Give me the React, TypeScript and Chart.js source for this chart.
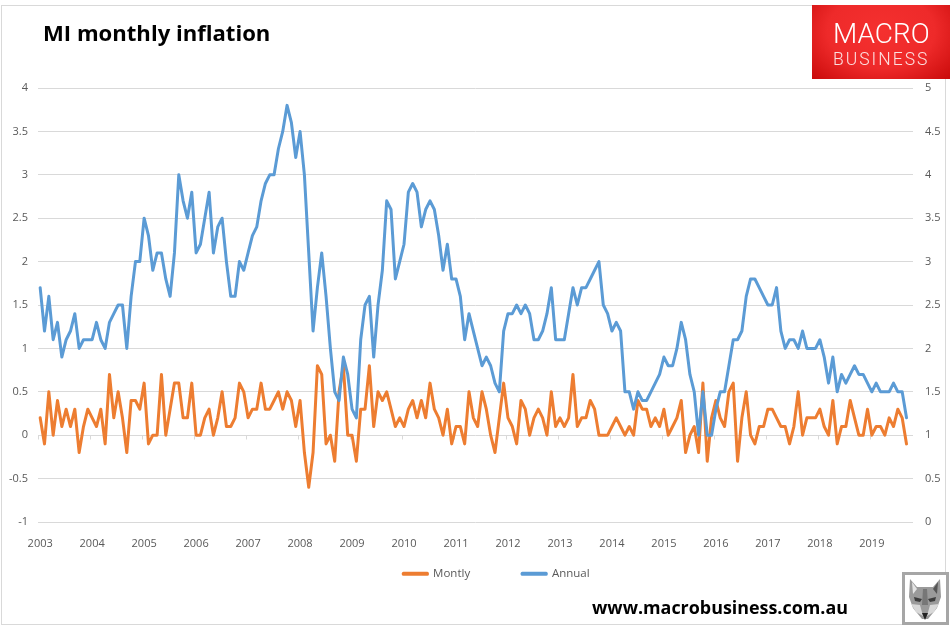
import React, { useEffect, useRef } from "react";
import { Chart, registerables } from "chart.js";

Chart.register(...registerables);

const yearLabels = ["2003","2004","2005","2006","2007","2008","2009","2010","2011","2012","2013","2014","2015","2016","2017","2018","2019"];

const monthly = [
  0.2,-0.1,0.5,0,0.4,0.1,0.3,0.1,0.3,-0.2,0.1,0.3,
  0.2,0.1,0.3,-0.1,0.7,0.2,0.5,0.2,-0.2,0.4,0.4,0.3,
  0.6,-0.1,0,0,0.7,0,0.3,0.6,0.6,0.2,0.2,0.6,
  0,0,0.2,0.3,0,0.2,0.5,0.1,0.1,0.2,0.6,0.5,
  0.2,0.3,0.3,0.6,0.3,0.3,0.4,0.5,0.3,0.5,0.4,0.1,
  0.4,-0.2,-0.6,-0.2,0.8,0.7,-0.1,0,-0.3,0.5,0.8,0,
  0,-0.3,0.3,0.3,0.8,0.1,0.5,0.4,0.5,0.3,0.1,0.2,
  0.1,0.3,0.4,0.2,0.4,0.2,0.6,0.3,0.2,0,0.3,-0.1,
  0.1,0.1,-0.1,0.5,0.2,0.1,0.5,0.3,0,-0.2,0.2,0.6,
  0.2,0.1,-0.1,0.4,0.3,0,0.2,0.3,0.2,0,0.5,0.1,
  0.2,0.1,0.2,0.7,0.1,0.2,0.2,0.4,0.3,0,0,0,
  0.1,0.2,0.1,0,0.1,0,0.4,0.3,0.3,0.1,0.2,0.1,
  0.3,0,0.1,0.2,0.4,-0.2,0,0.1,-0.2,0.6,-0.3,0.2,
  0.4,0.2,0.1,0.5,0.6,-0.3,0.2,0.5,0,-0.1,0.1,0.1,
  0.3,0.3,0.2,0.1,0.1,-0.1,0.1,0.5,0,0.2,0.2,0.2,
  0.3,0.1,0,0.4,-0.1,0.1,0.1,0.4,0.2,0,0,0.3,
  0,0.1,0.1,0,0.2,0.1,0.3,0.2,-0.1,
];

const annual = [
  2.7,2.2,2.6,2.1,2.3,1.9,2.1,2.2,2.4,2.0,2.1,2.1,
  2.1,2.3,2.1,2.0,2.3,2.4,2.5,2.5,2.0,2.6,3.0,3.0,
  3.5,3.3,2.9,3.1,3.1,2.8,2.6,3.1,4.0,3.7,3.5,3.8,
  3.1,3.2,3.5,3.8,3.1,3.4,3.5,3.0,2.6,2.6,3.0,2.9,
  3.1,3.3,3.4,3.7,3.9,4.0,4.0,4.3,4.5,4.8,4.6,4.2,
  4.5,4.0,3.1,2.2,2.7,3.1,2.6,2.0,1.5,1.4,1.9,1.7,
  1.3,1.2,2.1,2.5,2.6,1.9,2.5,2.9,3.7,3.6,2.8,3.0,
  3.2,3.8,3.9,3.8,3.4,3.6,3.7,3.6,3.3,2.9,3.2,2.8,
  2.8,2.6,2.1,2.4,2.2,2.0,1.8,1.9,1.8,1.6,1.5,2.2,
  2.4,2.4,2.5,2.4,2.5,2.4,2.1,2.1,2.2,2.4,2.7,2.1,
  2.1,2.1,2.4,2.7,2.5,2.7,2.7,2.8,2.9,3.0,2.5,2.4,
  2.2,2.3,2.2,1.5,1.5,1.3,1.5,1.4,1.4,1.5,1.6,1.7,
  1.9,1.8,1.8,2.0,2.3,2.1,1.7,1.5,1.0,1.5,1.0,1.0,
  1.3,1.5,1.5,1.8,2.1,2.1,2.2,2.6,2.8,2.8,2.7,2.6,
  2.5,2.5,2.7,2.2,2.0,2.1,2.1,2.0,2.2,2.0,2.0,2.0,
  2.1,1.9,1.6,1.9,1.5,1.7,1.6,1.7,1.8,1.7,1.7,1.6,
  1.5,1.6,1.5,1.5,1.5,1.6,1.5,1.5,1.2,
];

// one trailing empty month on the category axis, as in the reference
const categories = [...monthly, null].map((_, i) => (i % 12 === 0 ? yearLabels[i / 12] : ""));

const ORANGE = "#ED7D31";
const BLUE = "#5B9BD5";
const GRID = "#D9D9D9";
const TEXT = "#595959";
const FONT = "'Open Sans', 'Noto Sans', sans-serif";

const framePlugin = {
  id: "frame",
  beforeDraw(chart: any) {
    const { ctx, scales } = chart;
    ctx.save();
    ctx.strokeStyle = GRID;
    ctx.lineWidth = 1;
    ctx.strokeRect(1.5, 5.5, 944, 619);
    // year ticks below the zero line
    const x = scales.x;
    const zero = Math.round(scales.y.getPixelForValue(0)) + 0.5;
    const half = (x.getPixelForValue(1) - x.getPixelForValue(0)) / 2;
    ctx.beginPath();
    yearLabels.forEach((_, k) => {
      const px = Math.round(x.getPixelForValue(k * 12) - half) + 0.5;
      ctx.moveTo(px, zero);
      ctx.lineTo(px, zero + 4);
    });
    ctx.stroke();
    ctx.restore();
  },
  beforeLayout(chart: any) {
    const l = chart.legend;
    if (l && !l.__patched) {
      const orig = l.fit;
      l.fit = function () {
        orig.call(this);
        this.height = 0;
      };
      l.__patched = true;
    }
  },
  afterLayout(chart: any) {
    const l = chart.legend;
    if (!l) return;
    l.left += 21;
    l.right += 21;
    l.top = 516;
    l.bottom = 590;
  },
};

export default function App() {
  const ref = useRef<HTMLCanvasElement>(null);
  useEffect(() => {
    const chart = new Chart(ref.current!, {
      type: "line",
      data: {
        labels: categories,
        datasets: [
          { label: "Montly", data: monthly, yAxisID: "y", borderColor: ORANGE, backgroundColor: ORANGE, borderWidth: 3, borderJoinStyle: "round", borderCapStyle: "round", pointRadius: 0, tension: 0, order: 2 },
          { label: "Annual", data: annual, yAxisID: "y1", borderColor: BLUE, backgroundColor: BLUE, borderWidth: 3, borderJoinStyle: "round", borderCapStyle: "round", pointRadius: 0, tension: 0, order: 1 },
        ],
      },
      options: {
        responsive: false,
        animation: false,
        devicePixelRatio: 1,
        layout: { padding: { top: 88, bottom: 75, left: 0, right: 0 } },
        plugins: {
          tooltip: { enabled: false },
          title: { display: false },
          legend: {
            position: "bottom",
            labels: {
              boxWidth: 24,
              boxHeight: 1,
              padding: 52,
              color: TEXT,
              font: { family: FONT, size: 11.5 },
              sort: (a: any, b: any) => a.datasetIndex - b.datasetIndex,
            },
          },
        },
        scales: {
          x: {
            type: "category",
            offset: true,
            grid: { display: false },
            border: { display: false },
            afterFit(s: any) { s.height = 29; },
            ticks: {
              autoSkip: false,
              maxRotation: 0,
              minRotation: 0,
              padding: 7,
              color: TEXT,
              font: { family: FONT, size: 11 },
              callback(_: any, i: number) { return categories[i]; },
            },
          },
          y: {
            position: "left",
            min: -1,
            max: 4,
            afterFit(s: any) { s.width = 38; },
            grid: { color: GRID, lineWidth: 1, drawTicks: false },
            border: { display: false },
            ticks: { stepSize: 0.5, padding: 10, color: TEXT, font: { family: FONT, size: 11 }, callback: (v: any) => String(v) },
          },
          y1: {
            position: "right",
            min: 0,
            max: 5,
            afterFit(s: any) { s.width = 38; },
            grid: { drawOnChartArea: false, drawTicks: false },
            border: { display: false },
            ticks: { stepSize: 0.5, padding: 12, color: TEXT, font: { family: FONT, size: 11 }, callback: (v: any) => String(v) },
          },
        },
      },
      plugins: [framePlugin],
    } as any);
    return () => chart.destroy();
  }, []);

  return (
    <div style={{ position: "absolute", left: 0, top: 0, width: 951, height: 626, background: "#fff", overflow: "hidden" }}>
      <canvas ref={ref} width={951} height={626} style={{ display: "block" }} />
      <div style={{ position: "absolute", left: 43, top: 17, fontFamily: FONT, fontWeight: 700, fontSize: 22.1, color: "#000", whiteSpace: "nowrap" }}>MI monthly inflation</div>
      <div style={{ position: "absolute", left: 812, top: 5, width: 138, height: 74, background: "radial-gradient(ellipse at 50% 35%, #f5302f 0%, #ee2a2a 55%, #c90a0a 100%)", color: "#fff", fontFamily: "Roboto, sans-serif" }}>
        <div style={{ position: "absolute", left: 21, top: 12, fontSize: 28, lineHeight: "34px", fontWeight: 300, whiteSpace: "nowrap" }}>MACRO</div>
        <div style={{ position: "absolute", left: 21, top: 43, fontSize: 17.5, letterSpacing: 2, lineHeight: "22px", fontWeight: 300, opacity: 0.85, whiteSpace: "nowrap" }}>BUSINESS</div>
      </div>
      <div style={{ position: "absolute", left: 592, top: 595, fontFamily: FONT, fontWeight: 700, fontSize: 17.9, color: "#000", whiteSpace: "nowrap" }}>www.macrobusiness.com.au</div>
      <svg style={{ position: "absolute", left: 902, top: 572 }} width={47} height={53}>
        <rect x={1.5} y={1.5} width={44} height={50} fill="#fff" stroke="#A6A6A6" strokeWidth={3} />
        <polygon points="8,7 15,15 31,15 38,7 39,25 35,36 26,47 20,47 11,36 7,25" fill="#9A9A9A" />
        <polygon points="10,10 15,17 11,22" fill="#E4E4E4" />
        <polygon points="36,10 31,17 35,22" fill="#555" />
        <polygon points="12,25 20,27 18,30 13,29" fill="#3D3D3D" />
        <polygon points="34,25 26,27 28,30 33,29" fill="#3D3D3D" />
        <polygon points="9,32 18,33 21,44 14,40" fill="#D8D8D8" />
        <polygon points="37,32 28,33 25,44 32,40" fill="#D8D8D8" />
        <polygon points="20,41 26,41 23,48" fill="#222" />
        <polygon points="21,17 25,17 26,33 20,33" fill="#777" />
      </svg>
    </div>
  );
}
